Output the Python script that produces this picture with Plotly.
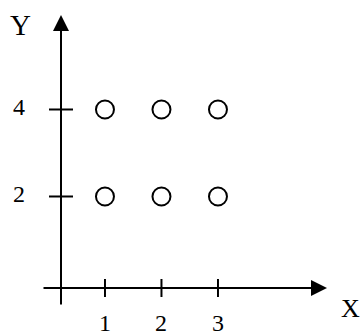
import plotly.graph_objects as go

# Data
x_ticks = [1, 2, 3]
y_ticks = [2, 4]
x_tick_labels = ["1", "2", "3"]
y_tick_labels = ["2", "4"]
point_x = [1, 2, 3, 1, 2, 3]
point_y = [4, 4, 4, 2, 2, 2]
x_title = "X"
y_title = "Y"

W, H = 360, 331
FONT = "Liberation Serif, Times New Roman, serif"

def px(x):
    return x / W

def py(y):
    return 1 - y / H

fig = go.Figure()
fig.add_trace(go.Scatter(
    x=point_x, y=point_y, mode="markers",
    marker=dict(symbol="circle-open", size=18, color="black",
                line=dict(width=2, color="black")),
    showlegend=False, hoverinfo="skip"))

axis_x_px = 61    # vertical axis position
axis_y_px = 288   # horizontal axis position

shapes = []
for v in x_ticks:
    shapes.append(dict(type="line", xref="x", x0=v, x1=v,
                       yref="paper", ysizemode="pixel", yanchor=py(axis_y_px),
                       y0=-9, y1=9, line=dict(color="black", width=2)))
for v in y_ticks:
    shapes.append(dict(type="line", yref="y", y0=v, y1=v,
                       xref="paper", xsizemode="pixel", xanchor=px(axis_x_px),
                       x0=-12, x1=12, line=dict(color="black", width=2)))

annotations = []
# Axis arrows
annotations.append(dict(xref="paper", yref="paper", x=px(axis_x_px), y=py(15),
                        ax=0, ay=306 - 15, text="", showarrow=True,
                        arrowhead=2, arrowsize=1.6, arrowwidth=2, arrowcolor="black"))
annotations.append(dict(xref="paper", yref="paper", x=px(327), y=py(axis_y_px),
                        ax=42 - 327, ay=0, text="", showarrow=True,
                        arrowhead=2, arrowsize=1.6, arrowwidth=2, arrowcolor="black"))
# Tick labels
for v, t in zip(x_ticks, x_tick_labels):
    annotations.append(dict(xref="x", yref="paper", x=v, y=py(323), text=t,
                            showarrow=False, xanchor="center", yanchor="middle",
                            font=dict(family=FONT, size=24, color="black")))
for v, t in zip(y_ticks, y_tick_labels):
    annotations.append(dict(xref="paper", yref="y", x=px(19), y=v, text=t,
                            showarrow=False, xanchor="center", yanchor="middle",
                            yshift=2,
                            font=dict(family=FONT, size=24, color="black")))
# Axis titles
annotations.append(dict(xref="paper", yref="paper", x=px(20), y=py(25), text=y_title,
                        showarrow=False, xanchor="center", yanchor="middle",
                        font=dict(family=FONT, size=29, color="black")))
annotations.append(dict(xref="paper", yref="paper", x=px(350), y=py(308), text=x_title,
                        showarrow=False, xanchor="center", yanchor="middle",
                        font=dict(family=FONT, size=26, color="black")))

fig.update_layout(
    width=W, height=H,
    margin=dict(l=0, r=0, t=0, b=0),
    paper_bgcolor="white", plot_bgcolor="white",
    xaxis=dict(range=[-0.858, 5.514], visible=False, fixedrange=True),
    yaxis=dict(range=[-1.092, 6.517], visible=False, fixedrange=True),
    shapes=shapes, annotations=annotations,
    showlegend=False,
)

fig.write_html(
    "out.html",
    config={"displayModeBar": False},
    post_script="document.body.style.margin='0';document.body.style.padding='0';document.body.style.overflow='hidden';",
)
